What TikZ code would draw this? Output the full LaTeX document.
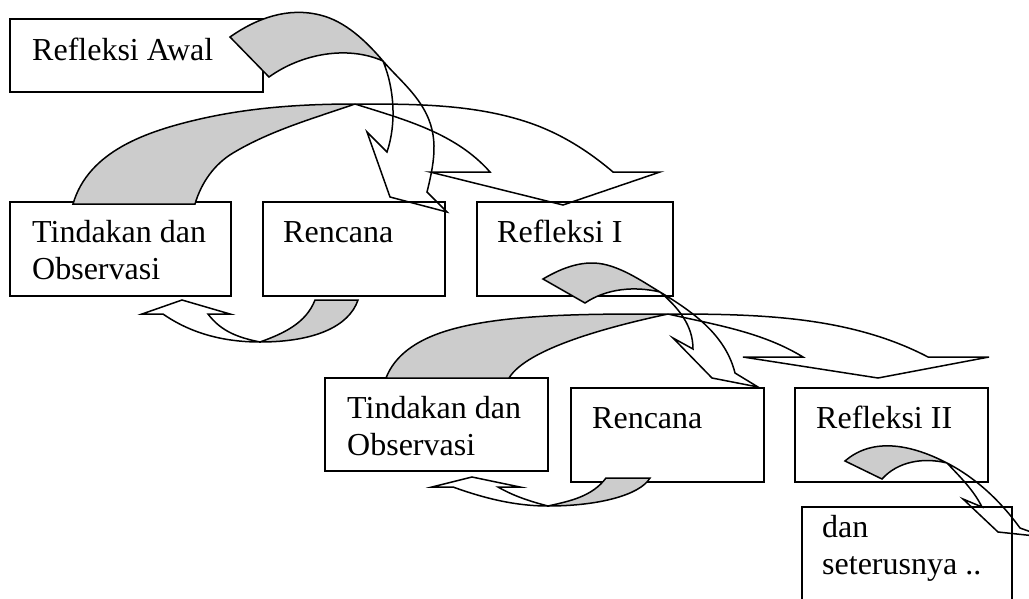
\documentclass[tikz,border=0pt]{standalone}
\usepackage{fontspec}
\setmainfont{Liberation Serif}[Ligatures=NoCommon]
\definecolor{bandgray}{RGB}{204,204,204}
\tikzset{
  box/.style={draw, line width=1.5pt, anchor=north west, inner sep=0pt, outer sep=0pt},
  lbl/.style={anchor=base west, inner sep=0pt, font=\fontsize{32}{37}\selectfont},
  band/.style={fill=bandgray},
  outline/.style={draw, line width=1.5pt, line join=miter},
}
\begin{document}
\begin{tikzpicture}[x=1pt,y=-1pt]
\useasboundingbox (0,0) rectangle (1029,598);
\clip (0,0) rectangle (1029,598);

% boxes
\node[box, minimum width=253pt, minimum height=73pt] (awal) at (10,19) {};
\node[box, minimum width=221pt, minimum height=94pt] (tind1) at (10,202) {};
\node[box, minimum width=182pt, minimum height=94pt] (renc1) at (263,202) {};
\node[box, minimum width=196pt, minimum height=94pt] (ref1) at (477,202) {};
\node[box, minimum width=223pt, minimum height=93pt] (tind2) at (325,378) {};
\node[box, minimum width=193pt, minimum height=94pt] (renc2) at (571,388) {};
\node[box, minimum width=193pt, minimum height=94pt] (ref2) at (795,388) {};
\node[box, minimum width=210pt, minimum height=130pt] (dan) at (802,507) {};

% texts
\node[lbl] (tawal) at ([shift={(22,41)}]awal.north west) {Refleksi Awal};
\node[lbl] (ttind1a) at ([shift={(22,40)}]tind1.north west) {Tindakan dan};
\node[lbl] (ttind1b) at ([shift={(22,77)}]tind1.north west) {Observasi};
\node[lbl] (trenc1) at ([shift={(20,40)}]renc1.north west) {Rencana};
\node[lbl] (tref1) at ([shift={(20,40)}]ref1.north west) {Refleksi I};
\node[lbl] (ttind2a) at ([shift={(22,40)}]tind2.north west) {Tindakan dan};
\node[lbl] (ttind2b) at ([shift={(22,77)}]tind2.north west) {Observasi};
\node[lbl] (trenc2) at ([shift={(21,40)}]renc2.north west) {Rencana};
\node[lbl] (tref2) at ([shift={(21,40)}]ref2.north west) {Refleksi II};
\node[lbl] (tdana) at ([shift={(20,30)}]dan.north west) {dan};
\node[lbl] (tdanb) at ([shift={(20,67)}]dan.north west) {seterusnya ..};

% Arrow A: Refleksi Awal -> Rencana (row 1)
\fill[band] (230,37) .. controls (257,18) and (288,7) .. (320,15)
  .. controls (345,21) and (366,41) .. (383,61)
  .. controls (347,45) and (301,54) .. (269,77) -- cycle;
\draw[outline] (230,37) .. controls (257,18) and (288,7) .. (320,15)
  .. controls (345,21) and (366,41) .. (383,61)
  .. controls (395.4,75.4) and (409.4,87.2) .. (420,103)
  .. controls (439.6,132) and (435.4,158) .. (427,192)
  -- (447,212) -- (390,197) -- (367,132) -- (387,152)
  .. controls (396.6,123.5) and (394.4,88.6) .. (383,61)
  .. controls (347,45) and (301,54) .. (269,77) -- cycle;

% Arrow B: Tindakan 1 -> Refleksi I
\fill[band] (73,204) .. controls (88.4,151.2) and (146.4,131.3) .. (200,119)
  .. controls (250.7,107.4) and (303,104) .. (355,104)
  .. controls (313.4,118.4) and (270.7,130.4) .. (233,153)
  .. controls (214.1,164.3) and (201.2,182.9) .. (195,204) -- cycle;
\draw[outline] (73,204) .. controls (88.4,151.2) and (146.4,131.3) .. (200,119)
  .. controls (250.7,107.4) and (303,104) .. (355,104)
  .. controls (414,104) and (474.2,103.8) .. (530,123)
  .. controls (560.7,133.6) and (588.3,150.9) .. (613,172)
  -- (660,172) -- (563,205) -- (430,172) -- (490,172)
  .. controls (455.7,133) and (404.4,119.6) .. (355,104)
  .. controls (313.4,118.4) and (270.7,130.4) .. (233,153)
  .. controls (214.1,164.3) and (201.2,182.9) .. (195,204) -- cycle;

% Arrow C: Rencana 1 -> Tindakan 1
\fill[band] (358,300) .. controls (349,326.6) and (314,342) .. (260,342)
  .. controls (283.5,333.5) and (306,323.3) .. (315,300) -- cycle;
\draw[outline] (358,300) .. controls (349,326.6) and (314,342) .. (260,342)
  .. controls (225,342) and (191.7,334) .. (163,314)
  -- (142,314) -- (182,300) -- (230,314) -- (208,314)
  .. controls (221.2,331.6) and (238.4,337.6) .. (260,342)
  .. controls (283.5,333.5) and (306,323.3) .. (315,300) -- cycle;

% Arrow D: Refleksi I -> Rencana 2
\fill[band] (543,279) .. controls (562.8,267.3) and (584.8,259) .. (607,265)
  .. controls (626.3,270.2) and (642.9,281.7) .. (660,292)
  .. controls (634.8,286) and (606.6,288.4) .. (585,303) -- cycle;
\draw[outline] (543,279) .. controls (562.8,267.3) and (584.8,259) .. (607,265)
  .. controls (626.3,270.2) and (642.9,281.7) .. (660,292)
  .. controls (693.4,312) and (725.6,335.2) .. (735,373)
  -- (758,387) -- (712,378) -- (673,338) -- (693,349)
  .. controls (693,325) and (678.2,307.6) .. (660,292)
  .. controls (634.8,286) and (606.6,288.4) .. (585,303) -- cycle;

% Arrow B2: Tindakan 2 -> Refleksi II
\fill[band] (386,378) .. controls (395,354.8) and (416.5,341.3) .. (440,333)
  .. controls (496.4,313.2) and (591,314) .. (668,314)
  .. controls (609.2,326.6) and (527.2,348.3) .. (509,378) -- cycle;
\draw[outline] (386,378) .. controls (395,354.8) and (416.5,341.3) .. (440,333)
  .. controls (496.4,313.2) and (591,314) .. (668,314)
  .. controls (757,314) and (849.1,315.7) .. (928,357)
  -- (989,357) -- (878,378) -- (743,357) -- (803,357)
  .. controls (762.2,332) and (714.6,324.6) .. (668,314)
  .. controls (609.2,326.6) and (527.2,348.3) .. (509,378) -- cycle;

% Arrow E: Rencana 2 -> Tindakan 2
\fill[band] (650,478) .. controls (639.8,495.2) and (598,506) .. (548,506)
  .. controls (570.4,501) and (592.2,496.4) .. (606,478) -- cycle;
\draw[outline] (650,478) .. controls (639.8,495.2) and (598,506) .. (548,506)
  .. controls (515,506) and (484,498.2) .. (453,487)
  -- (432,487) -- (472,477) -- (520,487) -- (498,487)
  .. controls (513.5,496) and (530.5,501.5) .. (548,506)
  .. controls (570.4,501) and (592.2,496.4) .. (606,478) -- cycle;

% Arrow F: Refleksi II -> dan seterusnya
\fill[band] (845,461) .. controls (873.7,436.1) and (913.2,445.5) .. (947,463)
  .. controls (923.7,457.2) and (898,461.2) .. (882,479) -- cycle;
\draw[outline] (845,461) .. controls (873.7,436.1) and (913.2,445.5) .. (947,463)
  .. controls (976.4,478.2) and (1000.7,501.3) .. (1020,528)
  -- (1045,537) -- (998,532) -- (963,499) -- (982,507)
  .. controls (973.5,490) and (960.1,476.9) .. (947,463)
  .. controls (923.7,457.2) and (898,461.2) .. (882,479) -- cycle;
\end{tikzpicture}
\end{document}
